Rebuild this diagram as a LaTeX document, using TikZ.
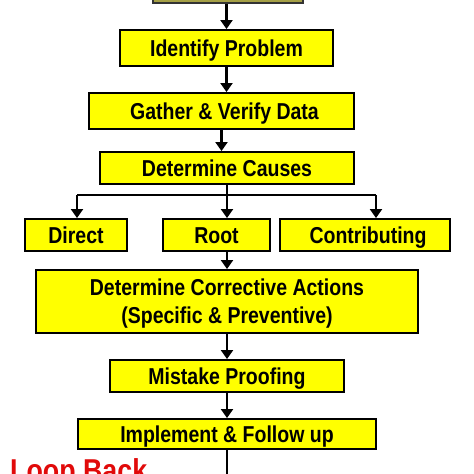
\documentclass[tikz,border=0pt]{standalone}
\usepackage{fontspec}
\usepackage{graphicx}
\setmainfont{Liberation Sans}
\usetikzlibrary{arrows.meta}
\newcommand\tx[1]{\scalebox{1}[1.18]{#1}}
\definecolor{boxyellow}{RGB}{255,255,0}
\definecolor{loopred}{RGB}{225,10,10}
\definecolor{topolive}{RGB}{165,160,70}
\tikzset{
  box/.style={draw=black, line width=1.9pt, fill=boxyellow, inner sep=0pt,
    font=\bfseries\fontsize{19.5}{28}\selectfont, text height=16.5pt, text depth=0pt},
  arr/.style={draw=black, line width=2.1pt, -{Triangle[width=12pt,length=9pt]}},
  ln/.style={draw=black, line width=2.1pt}
}
\begin{document}
\begin{tikzpicture}[x=1pt,y=-1pt]
\useasboundingbox (0,0) rectangle (474,474);
\clip (0,0) rectangle (474,474);
\fill[white] (0,0) rectangle (474,474);
\node[box, fill=topolive, draw=black!80, minimum width=150pt, minimum height=30pt] (top) at (228,-12) {};
\node[box, minimum width=213pt, minimum height=36pt] (idp) at (226.5,48) {\tx{Identify Problem}};
\node[box, minimum width=265pt, minimum height=36pt] (gvd) at (221.5,111) {\hspace{6pt}\tx{Gather \& Verify Data}};
\node[box, minimum width=254pt, minimum height=32pt] (dc) at (227,168) {\tx{Determine Causes}};
\node[box, minimum width=102pt, minimum height=32pt] (dir) at (76,235) {\tx{Direct}};
\node[box, minimum width=107pt, minimum height=32pt] (root) at (216.5,235) {\tx{Root}};
\node[box, minimum width=170pt, minimum height=32pt] (contr) at (365,235) {\hspace{6pt}\tx{Contributing}};
\node[box, minimum width=382pt, minimum height=63pt, align=center, text height=44.5pt, text depth=0pt] (dca) at (227,301.5)
  {\tx{Determine Corrective Actions}\\\tx{(Specific \& Preventive)}};
\node[box, minimum width=234pt, minimum height=32pt] (mp) at (227,376) {\tx{Mistake Proofing}};
\node[box, minimum width=298pt, minimum height=30pt] (imp) at (227,434) {\tx{Implement \& Follow up}};
\node[anchor=base west, inner sep=0pt, text=loopred, font=\bfseries\fontsize{26.8}{30}\selectfont] (loop) at (10,481) {\tx{Loop Back}};
\coordinate (jl) at (77,195);
\coordinate (jr) at (376,195);
\coordinate (jc) at (227,195);
\coordinate (endpt) at (227,484);
\draw[arr] (top.south -| idp.north) -- (idp.north);
\draw[arr] (idp.south) -- (idp.south |- gvd.north);
\draw[arr] (gvd.south) -- (gvd.south |- dc.north);
\draw[ln] (dc.south) -- (jc);
\draw[ln] (jl) -- (jr);
\draw[arr] (jl) -- (jl |- dir.north);
\draw[arr] (jc) -- (jc |- root.north);
\draw[arr] (jr) -- (jr |- contr.north);
\draw[arr] (dca.north |- root.south) -- (dca.north);
\draw[arr] (dca.south) -- (mp.north);
\draw[arr] (mp.south) -- (imp.north);
\draw[arr] (imp.south) -- (endpt);
\end{tikzpicture}
\end{document}
